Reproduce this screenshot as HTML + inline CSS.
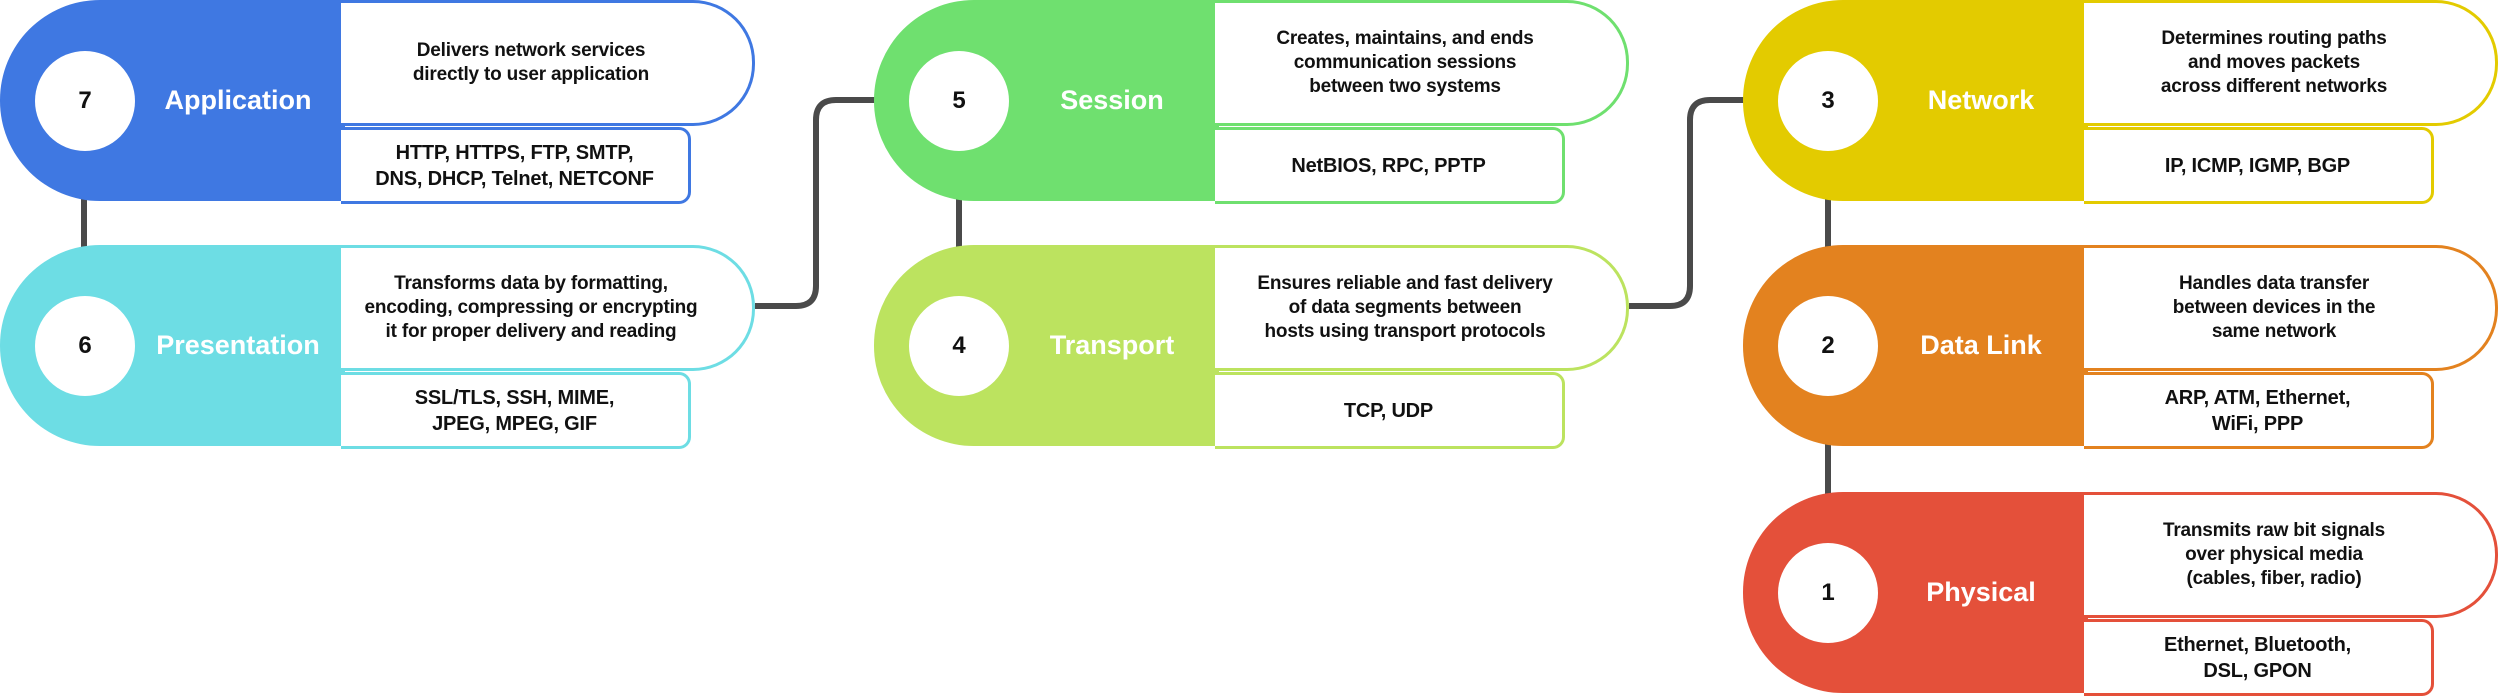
<!DOCTYPE html>
<html><head><meta charset="utf-8"><style>
body{margin:0;width:2500px;height:693px;background:#fff;position:relative;overflow:hidden;font-family:"Liberation Sans",sans-serif;font-weight:bold}
.b{position:absolute;width:760px;height:201px}
.pill{position:absolute;left:0;top:0;width:345px;height:201px;border-radius:100px 0 0 100px}
.c{position:absolute;left:35px;top:51px;width:100px;height:100px;border-radius:50%;background:#fff;display:flex;align-items:center;justify-content:center;font-size:24px;color:#111}
.lab{position:absolute;left:135px;width:206px;top:0;height:201px;display:flex;align-items:center;justify-content:center;color:#fff;font-size:27px}
.t{position:absolute;left:341px;top:0;width:411px;height:120px;border:3px solid;border-left:none;border-radius:0 62px 62px 0;background:#fff;display:flex;align-items:center}
.t span,.u span{display:block;width:380px;text-align:center;font-size:19px;line-height:24px;color:#111;letter-spacing:-0.2px}
.u{position:absolute;left:341px;top:127px;width:347px;height:71px;border:3px solid;border-left:none;border-radius:0 12px 12px 0;background:#fff;display:flex;align-items:center}
.u span{width:347px;font-size:20px;line-height:26px}
</style></head><body>
<svg style="position:absolute;left:0;top:0" width="2500" height="693">
<g fill="none" stroke="#4a4a4a" stroke-width="6">
<path d="M755 306 H796 Q816 306 816 286 V120 Q816 100 836 100 H876"/>
<path d="M1629 306 H1670 Q1690 306 1690 286 V120 Q1690 100 1710 100 H1746"/>
<path d="M84 198 V250 M959 198 V250 M1828 198 V250 M1828 444 V495"/>
</g></svg>

<div class="b" style="left:0;top:0"><div class="pill" style="background:#3f78e2"></div><div class="c">7</div><div class="lab">Application</div>
<div class="t" style="border-color:#3f78e2"><span>Delivers network services<br>directly to user application</span></div>
<div class="u" style="border-color:#3f78e2"><span>HTTP, HTTPS, FTP, SMTP,<br>DNS, DHCP, Telnet, NETCONF</span></div></div>

<div class="b" style="left:0;top:245px"><div class="pill" style="background:#6ddde4"></div><div class="c">6</div><div class="lab">Presentation</div>
<div class="t" style="border-color:#6ddde4"><span>Transforms data by formatting,<br>encoding, compressing or encrypting<br>it for proper delivery and reading</span></div>
<div class="u" style="border-color:#6ddde4"><span>SSL/TLS, SSH, MIME,<br>JPEG, MPEG, GIF</span></div></div>

<div class="b" style="left:874px;top:0"><div class="pill" style="background:#6fe06f"></div><div class="c">5</div><div class="lab">Session</div>
<div class="t" style="border-color:#6fe06f"><span>Creates, maintains, and ends<br>communication sessions<br>between two systems</span></div>
<div class="u" style="border-color:#6fe06f"><span>NetBIOS, RPC, PPTP</span></div></div>

<div class="b" style="left:874px;top:245px"><div class="pill" style="background:#bce35f"></div><div class="c">4</div><div class="lab">Transport</div>
<div class="t" style="border-color:#bce35f"><span>Ensures reliable and fast delivery<br>of data segments between<br>hosts using transport protocols</span></div>
<div class="u" style="border-color:#bce35f"><span>TCP, UDP</span></div></div>

<div class="b" style="left:1743px;top:0"><div class="pill" style="background:#e3cb00"></div><div class="c">3</div><div class="lab">Network</div>
<div class="t" style="border-color:#e3cb00"><span>Determines routing paths<br>and moves packets<br>across different networks</span></div>
<div class="u" style="border-color:#e3cb00"><span>IP, ICMP, IGMP, BGP</span></div></div>

<div class="b" style="left:1743px;top:245px"><div class="pill" style="background:#e3821f"></div><div class="c">2</div><div class="lab">Data Link</div>
<div class="t" style="border-color:#e3821f"><span>Handles data transfer<br>between devices in the<br>same network</span></div>
<div class="u" style="border-color:#e3821f"><span>ARP, ATM, Ethernet,<br>WiFi, PPP</span></div></div>

<div class="b" style="left:1743px;top:492px"><div class="pill" style="background:#e4503a"></div><div class="c">1</div><div class="lab">Physical</div>
<div class="t" style="border-color:#e4503a"><span>Transmits raw bit signals<br>over physical media<br>(cables, fiber, radio)</span></div>
<div class="u" style="border-color:#e4503a"><span>Ethernet, Bluetooth,<br>DSL, GPON</span></div></div>
</body></html>
